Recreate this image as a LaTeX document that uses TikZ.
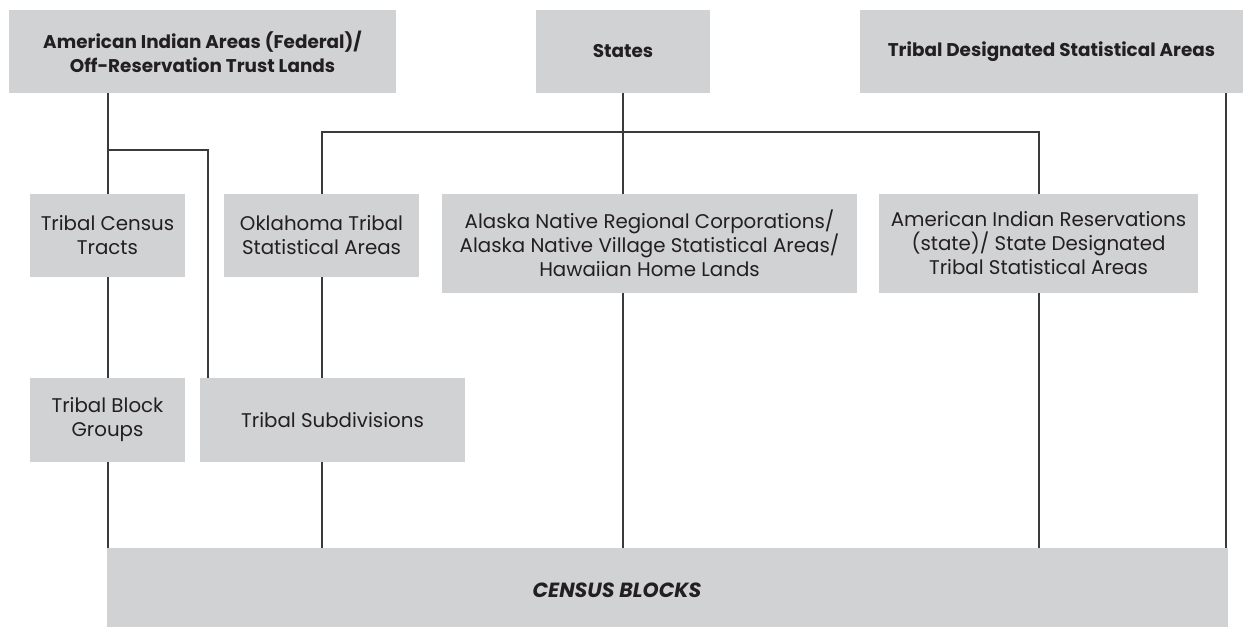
\documentclass[tikz,border=0pt]{standalone}
\usepackage{fontspec}
\setmainfont{Poppins}
\definecolor{boxgray}{HTML}{D1D2D4}
\definecolor{txt}{HTML}{231F20}
\definecolor{ln}{HTML}{3A3A3A}
\begin{document}
\begin{tikzpicture}[x=1pt,y=-1pt,
  box/.style={fill=boxgray, draw=none, inner sep=0pt, align=center, text=txt,
    font=\fontsize{19.8}{24}\selectfont},
  head/.style={box, font=\fontsize{18.4}{24}\selectfont\bfseries},
  conn/.style={draw=ln, line width=2pt}]
\useasboundingbox (0,0) rectangle (1251,627);
% top row
\node[head, minimum width=387pt, minimum height=83pt] (aia) at (202.5,51.5)
  {American Indian Areas (Federal)/\\Off-Reservation Trust Lands};
\node[head, minimum width=174pt, minimum height=83pt] (states) at (623,51.5) {States};
\node[head, minimum width=383pt, minimum height=83pt] (tdsa) at (1051.5,51.5)
  {Tribal Designated Statistical Areas};
% middle row
\node[box, minimum width=155pt, minimum height=83pt] (tct) at (107.5,235.5)
  {Tribal Census\\Tracts};
\node[box, minimum width=195pt, minimum height=83pt] (ok) at (321.5,235.5)
  {Oklahoma Tribal\\Statistical Areas};
\node[box, minimum width=415pt, minimum height=99pt] (alaska) at (649.5,243.5)
  {Alaska Native Regional Corporations/\\Alaska Native Village Statistical Areas/\\Hawaiian Home Lands};
\node[box, minimum width=319pt, minimum height=99pt] (air) at (1038.5,243.5)
  {American Indian Reservations\\(state)/ State Designated\\Tribal Statistical Areas};
% lower row
\node[box, minimum width=155pt, minimum height=84pt] (tbg) at (107.5,420)
  {Tribal Block\\Groups};
\node[box, minimum width=265pt, minimum height=84pt] (tsub) at (332.5,420)
  {Tribal Subdivisions};
% census blocks
\node[box, minimum width=1121pt, minimum height=79pt] (cb) at (667.5,587.5) {};
\node[text=txt, inner sep=0pt, font=\fontsize{20.5}{24}\selectfont\bfseries\itshape] (cbt) at (617,590) {CENSUS BLOCKS};
% connectors
\draw[conn] (tct.north |- aia.south) -- (tct.north);
\coordinate (br) at (107.5,150);
\draw[conn] (br) -| ([xshift=8pt]tsub.north west);
\draw[conn] (tct.south) -- (tbg.north);
\draw[conn] (tbg.south) -- (tbg.south |- cb.north);
\draw[conn] (states.south) -- (states.south |- alaska.north);
\draw[conn] (ok.north) -- ++(0,-62) -| (air.north);
\draw[conn] (ok.south) -- (ok.south |- tsub.north);
\draw[conn] (ok.south |- tsub.south) -- (ok.south |- cb.north);
\draw[conn] (states.south |- alaska.south) -- (states.south |- cb.north);
\draw[conn] (air.south) -- (air.south |- cb.north);
\draw[conn] ([xshift=-17pt]tdsa.south east) -- ([xshift=-17pt]tdsa.south east |- cb.north);
\end{tikzpicture}
\end{document}
